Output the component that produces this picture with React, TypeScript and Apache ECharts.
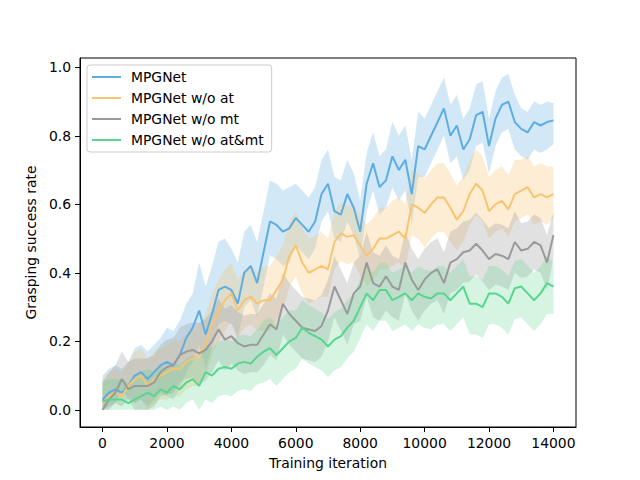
import React, { useEffect, useRef } from "react";
import * as echarts from "echarts";

const iterations: number[] = [
  0, 200, 400, 600, 800, 1000, 1200, 1400, 1600, 1800, 2000, 2200, 2400, 2600, 2800,
  3000, 3200, 3400, 3600, 3800, 4000, 4200, 4400, 4600, 4800, 5000, 5200, 5400, 5600, 5800,
  6000, 6200, 6400, 6600, 6800, 7000, 7200, 7400, 7600, 7800, 8000, 8200, 8400, 8600, 8800,
  9000, 9200, 9400, 9600, 9800, 10000, 10200, 10400, 10600, 10800, 11000, 11200, 11400, 11600, 11800,
  12000, 12200, 12400, 12600, 12800, 13000, 13200, 13400, 13600, 13800, 14000,
];

const seriesNames = ["MPGNet", "MPGNet w/o at", "MPGNet w/o mt", "MPGNet w/o at&mt"];

const mpgnet: number[] = [
  0.03, 0.05, 0.06, 0.05, 0.07, 0.10, 0.11, 0.09, 0.11, 0.13, 0.14, 0.13, 0.16, 0.21, 0.24,
  0.29, 0.22, 0.28, 0.35, 0.36, 0.35, 0.31, 0.40, 0.42, 0.37, 0.46, 0.55, 0.54, 0.52, 0.53,
  0.56, 0.54, 0.52, 0.55, 0.63, 0.66, 0.58, 0.57, 0.63, 0.59, 0.52, 0.66, 0.72, 0.65, 0.67,
  0.74, 0.70, 0.73, 0.63, 0.77, 0.76, 0.80, 0.84, 0.88, 0.80, 0.83, 0.76, 0.79, 0.86, 0.87,
  0.77, 0.85, 0.89, 0.90, 0.84, 0.82, 0.81, 0.84, 0.83, 0.84, 0.845,
];

const woAt: number[] = [
  0.02, 0.04, 0.05, 0.04, 0.07, 0.09, 0.10, 0.07, 0.09, 0.10, 0.11, 0.12, 0.12, 0.14, 0.15,
  0.16, 0.19, 0.25, 0.29, 0.32, 0.34, 0.29, 0.32, 0.33, 0.31, 0.32, 0.32, 0.35, 0.38, 0.45,
  0.48, 0.43, 0.40, 0.41, 0.42, 0.41, 0.49, 0.515, 0.505, 0.51, 0.48, 0.45, 0.47, 0.50, 0.50,
  0.51, 0.52, 0.50, 0.60, 0.59, 0.575, 0.60, 0.62, 0.62, 0.59, 0.555, 0.58, 0.63, 0.66, 0.64,
  0.58, 0.60, 0.61, 0.585, 0.63, 0.64, 0.65, 0.62, 0.63, 0.62, 0.63,
];

const woMt: number[] = [
  0.00, 0.03, 0.05, 0.09, 0.06, 0.07, 0.07, 0.07, 0.08, 0.11, 0.125, 0.13, 0.16, 0.17, 0.175,
  0.165, 0.175, 0.20, 0.235, 0.205, 0.215, 0.195, 0.185, 0.19, 0.19, 0.22, 0.25, 0.235, 0.31, 0.28,
  0.26, 0.24, 0.235, 0.23, 0.245, 0.29, 0.36, 0.32, 0.28, 0.34, 0.36, 0.43, 0.37, 0.36, 0.39,
  0.36, 0.35, 0.43, 0.38, 0.35, 0.38, 0.40, 0.41, 0.37, 0.43, 0.44, 0.46, 0.465, 0.485, 0.465,
  0.44, 0.455, 0.45, 0.44, 0.49, 0.465, 0.47, 0.49, 0.48, 0.43, 0.51,
];

const woAtMt: number[] = [
  0.025, 0.03, 0.03, 0.03, 0.02, 0.03, 0.04, 0.05, 0.04, 0.06, 0.05, 0.07, 0.06, 0.08, 0.09,
  0.07, 0.11, 0.10, 0.12, 0.125, 0.12, 0.135, 0.14, 0.135, 0.155, 0.17, 0.18, 0.16, 0.18, 0.20,
  0.21, 0.24, 0.225, 0.215, 0.205, 0.185, 0.205, 0.215, 0.24, 0.26, 0.30, 0.34, 0.32, 0.35, 0.35,
  0.32, 0.33, 0.34, 0.32, 0.34, 0.33, 0.325, 0.34, 0.34, 0.32, 0.34, 0.36, 0.31, 0.31, 0.30,
  0.34, 0.34, 0.33, 0.31, 0.355, 0.36, 0.34, 0.32, 0.34, 0.37, 0.36,
];

// spread of the raw (unsmoothed) curves above / below the smoothed one, per 1000-iteration block
const mpgnetUp: number[] = [0.07, 0.08, 0.10, 0.14, 0.12, 0.12, 0.10, 0.10, 0.09, 0.10, 0.09, 0.09, 0.08, 0.06, 0.05];
const mpgnetDown: number[] = [0.04, 0.08, 0.10, 0.10, 0.10, 0.10, 0.08, 0.08, 0.08, 0.09, 0.08, 0.09, 0.08, 0.08, 0.07];
const woAtUp: number[] = [0.07, 0.08, 0.08, 0.09, 0.09, 0.10, 0.10, 0.09, 0.09, 0.10, 0.10, 0.10, 0.10, 0.09, 0.08];
const woAtDown: number[] = [0.03, 0.07, 0.08, 0.09, 0.08, 0.09, 0.09, 0.08, 0.09, 0.09, 0.10, 0.09, 0.08, 0.08, 0.07];
const woMtUp: number[] = [0.08, 0.08, 0.08, 0.09, 0.09, 0.09, 0.09, 0.09, 0.09, 0.09, 0.09, 0.09, 0.09, 0.08, 0.07];
const woMtDown: number[] = [0.03, 0.07, 0.08, 0.09, 0.08, 0.09, 0.09, 0.09, 0.10, 0.09, 0.09, 0.09, 0.09, 0.08, 0.07];
const woAtMtUp: number[] = [0.06, 0.07, 0.07, 0.08, 0.08, 0.09, 0.08, 0.08, 0.08, 0.08, 0.08, 0.08, 0.08, 0.08, 0.07];
const woAtMtDown: number[] = [0.03, 0.05, 0.06, 0.08, 0.08, 0.09, 0.09, 0.09, 0.09, 0.09, 0.09, 0.09, 0.09, 0.09, 0.08];

const xTicks: number[] = [0, 2000, 4000, 6000, 8000, 10000, 12000, 14000];
const yTicks: number[] = [0, 0.2, 0.4, 0.6, 0.8, 1.0];

const colors = ["#5DADE2", "#F8C471", "#9A9A9A", "#58D68D"];

const FONT = "DejaVu Sans";

function buildSeries() {
  const all = [
    { name: seriesNames[0], vals: mpgnet, up: mpgnetUp, down: mpgnetDown, color: colors[0], alpha: 0.28 },
    { name: seriesNames[1], vals: woAt, up: woAtUp, down: woAtDown, color: colors[1], alpha: 0.3 },
    { name: seriesNames[2], vals: woMt, up: woMtUp, down: woMtDown, color: colors[2], alpha: 0.3 },
    { name: seriesNames[3], vals: woAtMt, up: woAtMtUp, down: woAtMtDown, color: colors[3], alpha: 0.25 },
  ];
  const out: any[] = [];
  all.forEach((s) => {
    const lower = s.vals.map((v, i) => Math.max(0, v - s.down[Math.floor(i / 5)]));
    const upper = s.vals.map((v, i) => v + s.up[Math.floor(i / 5)]);
    const bandData = iterations.map((x, i) => [x, lower[i], upper[i]]);
    out.push({
      type: "custom",
      name: s.name + "_band",
      silent: true,
      clip: true,
      coordinateSystem: "cartesian2d",
      encode: { x: 0, y: [1, 2] },
      data: bandData,
      renderItem: (params: any, api: any) => {
        if (params.dataIndex !== 0) return null;
        const top = bandData.map((d) => api.coord([d[0], d[2]]));
        const bottom = bandData.map((d) => api.coord([d[0], d[1]])).reverse();
        return {
          type: "polygon",
          shape: { points: top.concat(bottom) },
          style: { fill: s.color, opacity: s.alpha },
        };
      },
    });
    out.push({
      type: "line",
      name: s.name,
      symbol: "none",
      lineStyle: { color: s.color, width: 2 },
      itemStyle: { color: s.color },
      data: iterations.map((x, i) => [x, s.vals[i]]),
    });
  });
  return out;
}

export default function App() {
  const ref = useRef<HTMLDivElement>(null);
  useEffect(() => {
    document.body.style.margin = "0";
    const chart = echarts.init(ref.current!, null, { renderer: "svg" });
    chart.setOption({
      animation: false,
      backgroundColor: "#ffffff",
      textStyle: { fontFamily: FONT },
      grid: {
        left: 80,
        top: 58,
        width: 496,
        height: 369,
        show: true,
        borderColor: "#000000",
        borderWidth: 1,
        backgroundColor: "transparent",
      },
      legend: {
        data: seriesNames.map((n, i) => ({ name: n, itemStyle: { color: colors[i] } })),
        orient: "vertical",
        left: 87,
        top: 65,
        icon: "rect",
        itemWidth: 29,
        itemHeight: 2,
        itemGap: 7,
        padding: [5, 8, 5, 5],
        borderColor: "#cccccc",
        borderWidth: 1,
        borderRadius: 3,
        backgroundColor: "rgba(255,255,255,0.8)",
        textStyle: { fontFamily: FONT, fontSize: 13.9, color: "#000", padding: [0, 0, 0, 5] },
      },
      xAxis: {
        type: "value",
        min: -700,
        max: 14700,
        name: "Training iteration",
        nameLocation: "middle",
        nameGap: 29,
        nameTextStyle: { fontFamily: FONT, fontSize: 13.9, color: "#000" },
        splitLine: { show: false },
        axisLine: { show: true, onZero: false, lineStyle: { color: "#000", width: 1 } },
        axisTick: { show: true, length: 5, lineStyle: { color: "#000", width: 1 }, customValues: xTicks },
        axisLabel: {
          fontFamily: FONT,
          fontSize: 13.9,
          color: "#000",
          margin: 9,
          customValues: xTicks,
          formatter: (v: number) => String(v),
        },
      },
      yAxis: {
        type: "value",
        min: -0.05,
        max: 1.027,
        name: "Grasping success rate",
        nameLocation: "middle",
        nameGap: 39,
        nameTextStyle: { fontFamily: FONT, fontSize: 13.9, color: "#000" },
        splitLine: { show: false },
        axisLine: { show: true, onZero: false, lineStyle: { color: "#000", width: 1 } },
        axisTick: { show: true, length: 5, lineStyle: { color: "#000", width: 1 }, customValues: yTicks },
        axisLabel: {
          fontFamily: FONT,
          fontSize: 13.9,
          color: "#000",
          margin: 9,
          customValues: yTicks,
          formatter: (v: number) => v.toFixed(1),
        },
      },
      series: buildSeries(),
    });
    return () => chart.dispose();
  }, []);
  return <div ref={ref} style={{ width: 640, height: 480, position: "absolute", left: 0, top: 0 }} />;
}
